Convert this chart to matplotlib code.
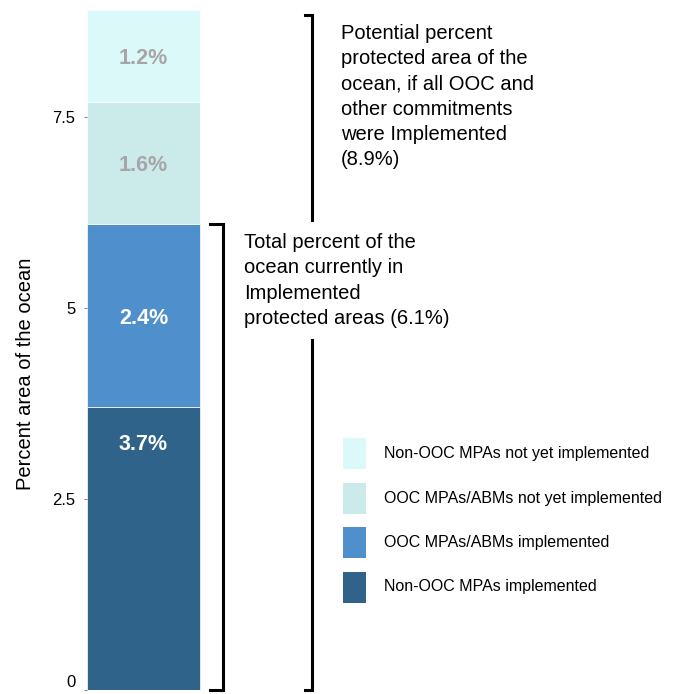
import matplotlib.pyplot as plt
from matplotlib.patches import Rectangle
import numpy as np

plt.rcParams['font.family'] = ['Liberation Sans', 'DejaVu Sans']

# stacked segments, bottom to top
categories = ['Non-OOC MPAs implemented', 'OOC MPAs/ABMs implemented',
              'OOC MPAs/ABMs not yet implemented', 'Non-OOC MPAs not yet implemented']
values = [3.7, 2.4, 1.6, 1.2]
labels = ['3.7%', '2.4%', '1.6%', '1.2%']
colors = ['#2f6389', '#4f90cc', '#cbeaea', '#dcf9fa']
label_colors = ['white', 'white', '#a6a6a6', '#a6a6a6']
yticks = [0, 2.5, 5, 7.5]
ytick_labels = ['0', '2.5', '5', '7.5']

implemented_total = 6.1
potential_total = 8.9

# how far below each segment's top its label sits (data units)
label_drop = [0.49, 1.24, 0.84, 0.63]

fig = plt.figure(figsize=(6.78, 6.94), dpi=100)
W, H = 678, 694
ax = fig.add_axes([87 / W, 4 / H, (W - 87) / W, 680 / H])

bottoms = np.concatenate([[0], np.cumsum(values)[:-1]])
for v, b, c, lab, lc, d in zip(values, bottoms, colors, labels, label_colors, label_drop):
    ax.bar(0, v, bottom=b, width=1, align='center', color=c,
           edgecolor='white', linewidth=0.5)
    ax.text(0, b + v - d, lab, ha='center', va='center', fontsize=15.5,
            fontweight='bold', color=lc)

ax.set_xlim(-0.5, -0.5 + (W - 87) / 113)
ax.set_ylim(0, potential_total)
ax.set_xticks([])
ax.set_yticks(yticks)
ax.set_yticklabels(ytick_labels, fontsize=12)
ax.get_yticklabels()[0].set_va('bottom')
ax.tick_params(axis='y', length=2.5, width=0.8, color='#888888', pad=6)
for s in ax.spines.values():
    s.set_visible(False)
ax.set_ylabel('Percent area of the ocean', fontsize=14.5)
ax.yaxis.set_label_coords(-0.088, 0.465)

# brackets
lw = 2.2
ax.plot([0.59, 0.70, 0.70, 0.59], [implemented_total, implemented_total, 0, 0],
        color='black', lw=lw, solid_joinstyle='miter', clip_on=False, zorder=1)
top = potential_total - 0.07
ax.plot([1.43, 1.49, 1.49, 1.43], [top, top, 0, 0],
        color='black', lw=lw, solid_joinstyle='miter', clip_on=False, zorder=1)

ax.text(1.75, 8.72, 'Potential percent\nprotected area of the\nocean, if all OOC and\n'
        'other commitments\nwere Implemented\n(8.9%)',
        ha='left', va='top', fontsize=14.5, linespacing=1.42)
ax.text(0.89, 5.98, 'Total percent of the\nocean currently in\nImplemented\nprotected areas (6.1%)',
        ha='left', va='top', fontsize=14.5, linespacing=1.42, zorder=3,
        bbox=dict(facecolor='white', edgecolor='none', pad=8))

# legend, top of stack first
for i, (cat, col) in enumerate(zip(categories[::-1], colors[::-1])):
    y_top = 438 + 44.5 * i
    fig.add_artist(Rectangle((343 / W, 1 - (y_top + 31) / H), 23 / W, 31 / H,
                             transform=fig.transFigure, facecolor=col,
                             edgecolor='none'))
    fig.text(384 / W, 1 - (y_top + 15.5) / H, cat, ha='left', va='center',
             fontsize=11.5)

plt.savefig('out.png', dpi=100)
plt.close()
